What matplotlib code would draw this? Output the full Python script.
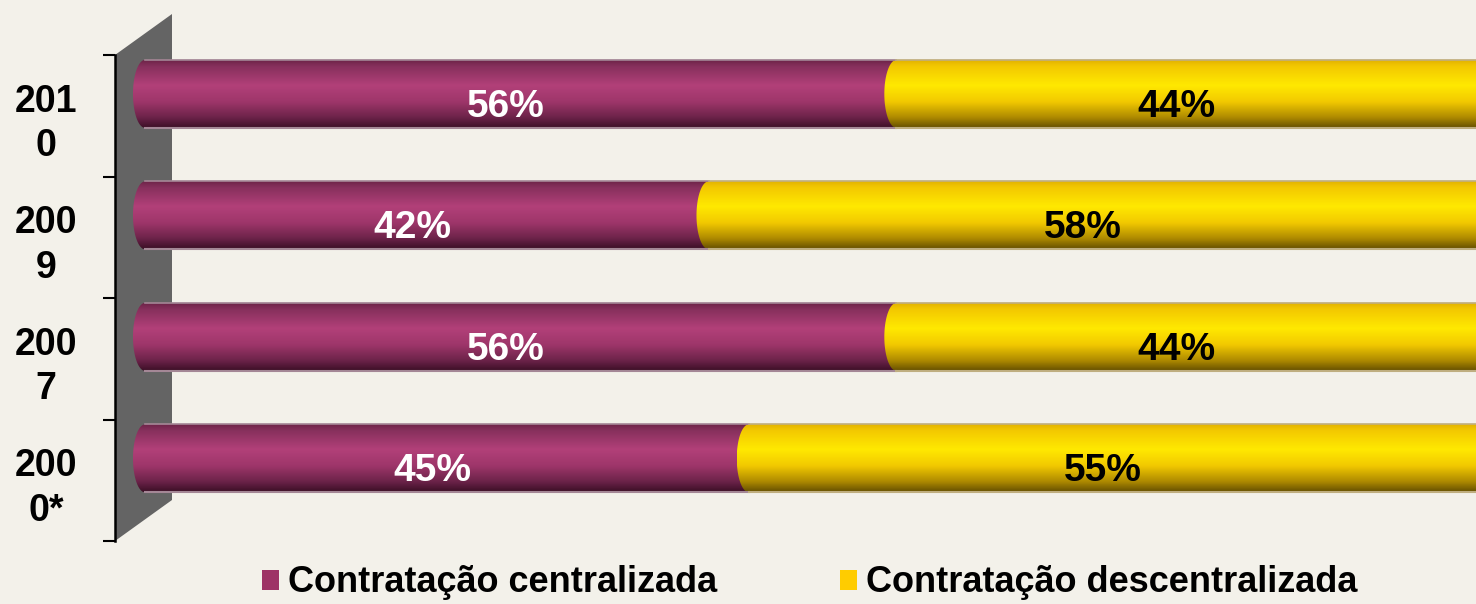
import matplotlib
matplotlib.use('Agg')
import matplotlib.pyplot as plt
import numpy as np
from matplotlib.colors import LinearSegmentedColormap
from matplotlib.patches import Polygon

# dados
anos = ['200\n0*', '200\n7', '200\n9', '201\n0']
centralizada = [45, 56, 42, 56]
descentralizada = [55, 44, 58, 44]
rotulo_central = 'Contratação centralizada'
rotulo_descentral = 'Contratação descentralizada'

plt.rcParams['font.family'] = ['Liberation Sans', 'DejaVu Sans']

fundo = '#F3F1EA'
fig = plt.figure(figsize=(14.76, 6.04), dpi=100, facecolor=fundo)
ax = fig.add_axes([115 / 1476, 63 / 604, 1361 / 1476, 486 / 604])
ax.set_facecolor('none')

y = np.arange(len(anos))
desloc = 0.18   # barras sobem um pouco (efeito 3d)
altura = 0.56
yb = y + desloc

b1 = ax.barh(yb, centralizada, height=altura, color='#9E3366',
             label=rotulo_central, zorder=2)
b2 = ax.barh(yb, descentralizada, left=centralizada, height=altura,
             color='#FFCC00', label=rotulo_descentral, zorder=2)

cmap_mag = LinearSegmentedColormap.from_list('mag', [
    (0.0, '#6A2346'), (0.1, '#86305C'), (0.38, '#B24079'),
    (0.62, '#9E366A'), (0.85, '#6C2349'), (1.0, '#3C0F27')])
cmap_ama = LinearSegmentedColormap.from_list('ama', [
    (0.0, '#E0B000'), (0.1, '#F3C800'), (0.38, '#FFE900'),
    (0.62, '#F2C900'), (0.85, '#AE8A00'), (1.0, '#665000')])

tampa = 0.9  # meia largura da tampa eliptica, em %


def cilindro(ret, cmap, borda):
    x0 = ret.get_x()
    w = ret.get_width()
    y0 = ret.get_y()
    h = ret.get_height()
    t = np.linspace(np.pi / 2, 3 * np.pi / 2, 40)
    xs = x0 + tampa * np.cos(t)
    ys = y0 + h / 2 + h / 2 * np.sin(t)
    verts = list(zip(xs, ys)) + [(x0 + w, y0), (x0 + w, y0 + h)]
    forma = Polygon(verts, closed=True, facecolor='none', edgecolor='none')
    ax.add_patch(forma)
    grad = np.linspace(0, 1, 120).reshape(-1, 1)
    im = ax.imshow(grad, cmap=cmap, aspect='auto', origin='upper',
                   extent=[x0 - tampa, x0 + w, y0, y0 + h], zorder=3)
    im.set_clip_path(forma)
    # filete claro em cima e embaixo
    ax.plot([x0, x0 + w], [y0 + h, y0 + h], color=borda, lw=1.2, zorder=3.5)
    ax.plot([x0, x0 + w], [y0, y0], color=borda, lw=1.5, zorder=3.5)


for r in b1.patches:
    cilindro(r, cmap_mag, '#A48796')
for r in b2.patches:
    cilindro(r, cmap_ama, '#BFAE80')

# rotulos de valor
for r, v in zip(b1.patches, centralizada):
    ax.text(r.get_x() + r.get_width() / 2 - 1.1, r.get_y() + r.get_height() / 2 - 0.105,
            f'{v}%', ha='center', va='center', color='white',
            fontsize=28, fontweight='bold', zorder=4)
for r, v in zip(b2.patches, descentralizada):
    ax.text(r.get_x() + r.get_width() / 2 - 1.1, r.get_y() + r.get_height() / 2 - 0.105,
            f'{v}%', ha='center', va='center', color='black',
            fontsize=28, fontweight='bold', zorder=4)

# parede cinza
parede = Polygon([(0, 1), (57 / 1361, 1 + 41 / 486), (57 / 1361, 41 / 486), (0, 0)],
                 closed=True, transform=ax.transAxes, facecolor='#646464',
                 edgecolor='none', clip_on=False, zorder=1)
ax.add_patch(parede)

ax.set_xlim(-2.24, 99.2)
ax.set_ylim(-0.5, 3.5)

for s in ['top', 'right', 'bottom']:
    ax.spines[s].set_visible(False)
ax.spines['left'].set_color('black')
ax.spines['left'].set_linewidth(1.8)
ax.spines['left'].set_zorder(5)

ax.set_xticks([])
ax.set_yticks([-0.5, 0.5, 1.5, 2.5, 3.5], ['', '', '', '', ''])
ax.set_yticks(y, anos, minor=True)
ax.tick_params(axis='y', which='major', length=8.6, width=1.5, color='black')
ax.tick_params(axis='y', which='minor', length=0, pad=49.7)
for lbl in ax.get_yticklabels(minor=True):
    lbl.set_ha('center')
    lbl.set_multialignment('center')
    lbl.set_linespacing(1.3)
    lbl.set_fontsize(27)
    lbl.set_fontweight('bold')

fig.legend(handles=[b1, b2], loc='center left',
           bbox_to_anchor=(262 / 1476, (604 - 583) / 604), ncol=2, frameon=False,
           prop=dict(weight='bold', size=26), handlelength=0.47, handleheight=0.47,
           handletextpad=0.25, columnspacing=3.4, borderpad=0, borderaxespad=0)

fig.savefig('out.png', dpi=100, facecolor=fundo)
